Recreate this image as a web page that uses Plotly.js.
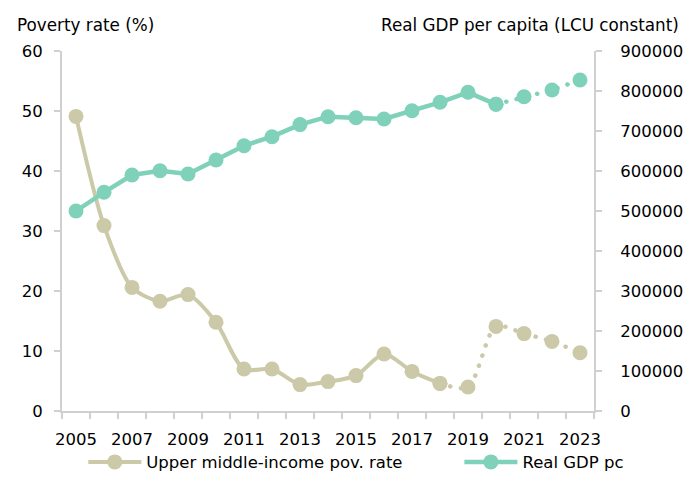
<!DOCTYPE html>
<html>
<head>
<meta charset="utf-8">
<script src="https://cdn.plot.ly/plotly-3.0.1.min.js"></script>
<style>
html,body{margin:0;padding:0;background:#fff;}
#chart{width:699px;height:487px;}
#chart .scatterlayer .js-line{stroke-linecap:round !important;stroke-linejoin:round !important;}
</style>
</head>
<body>
<div id="chart"></div>
<script>
const years = [2005,2006,2007,2008,2009,2010,2011,2012,2013,2014,2015,2016,2017,2018,2019,2020,2021,2022,2023];
const povertyRate = [49.1,30.9,20.6,18.3,19.4,14.8,7.0,7.0,4.4,4.9,5.9,9.5,6.6,4.6,4.0,14.1,12.9,11.6,9.7];
const gdpPc = [500000,546700,590000,600800,592500,627500,663300,685800,716000,735800,733300,730000,750800,771700,796700,766700,785800,802500,827500];
const tickYears = [2005,2007,2009,2011,2013,2015,2017,2019,2021,2023];
const povSolidEnd = 2018;   // last year drawn with a solid line
const gdpSolidEnd = 2020;
const povName = 'Upper middle-income pov. rate';
const gdpName = 'Real GDP pc';
const povTitle = 'Poverty rate (%)';
const gdpTitle = 'Real GDP per capita (LCU constant)';

const povColor = '#CBC9A8';
const gdpColor = '#7FD2B9';
const axisColor = '#D0D0D0';
const font = {family: 'DejaVu Sans, sans-serif', size: 16.5, color: '#000'};
const titleFont = {family: 'DejaVu Sans, sans-serif', size: 16.8, color: '#000'};
const dotted = '0.1px,10.5px';

const ip = years.indexOf(povSolidEnd);
const ig = years.indexOf(gdpSolidEnd);

const traces = [
  {x: years.slice(0, ip + 1), y: povertyRate.slice(0, ip + 1), name: povName, type: 'scatter', mode: 'lines+markers',
   line: {color: povColor, width: 4, shape: 'spline', smoothing: 0.8}, marker: {color: povColor, size: 15}, yaxis: 'y', legend: 'legend'},
  {x: years.slice(ip), y: povertyRate.slice(ip), name: povName, type: 'scatter', mode: 'lines+markers', showlegend: false,
   line: {color: povColor, width: 4.5, dash: dotted, shape: 'spline', smoothing: 0.8}, marker: {color: povColor, size: 15}, yaxis: 'y'},
  {x: years.slice(0, ig + 1), y: gdpPc.slice(0, ig + 1), name: gdpName, type: 'scatter', mode: 'lines+markers',
   line: {color: gdpColor, width: 4.5}, marker: {color: gdpColor, size: 15}, yaxis: 'y2', legend: 'legend2'},
  {x: years.slice(ig), y: gdpPc.slice(ig), name: gdpName, type: 'scatter', mode: 'lines+markers', showlegend: false,
   line: {color: gdpColor, width: 4.5, dash: dotted}, marker: {color: gdpColor, size: 15}, yaxis: 'y2'}
];

const legendBase = {orientation: 'h', xanchor: 'left', xref: 'paper', yref: 'container', y: 0.0869, yanchor: 'top',
  itemwidth: 53, font: font, bgcolor: 'rgba(0,0,0,0)'};

const layout = {
  width: 699, height: 487,
  margin: {l: 62, r: 105, t: 51, b: 76},
  paper_bgcolor: '#fff', plot_bgcolor: '#fff',
  font: font,
  showlegend: true,
  xaxis: {
    range: [years[0] - 0.5, years[years.length - 1] + 0.5],
    tickvals: tickYears, ticktext: tickYears.map(String),
    ticks: '', showgrid: false, zeroline: false,
    showline: true, linecolor: axisColor, linewidth: 2,
    ticklabelstandoff: 12,
    minor: {tick0: years[0] - 0.5, dtick: 1, ticks: 'outside', ticklen: 6, tickcolor: axisColor, tickwidth: 2, showgrid: false}
  },
  yaxis: {
    range: [0, 60], dtick: 10, tick0: 0,
    showgrid: false, zeroline: false,
    showline: true, linecolor: axisColor, linewidth: 2,
    ticks: 'outside', ticklen: 6, tickcolor: axisColor, tickwidth: 2,
    ticklabelstandoff: 8
  },
  yaxis2: {
    range: [0, 900000], dtick: 100000, tick0: 0, overlaying: 'y', side: 'right',
    showgrid: false, zeroline: false,
    showline: true, linecolor: axisColor, linewidth: 2,
    ticks: 'outside', ticklen: 6, tickcolor: axisColor, tickwidth: 2,
    tickformat: 'd',
    ticklabelstandoff: 15
  },
  legend: Object.assign({}, legendBase, {x: 0.04}),
  legend2: Object.assign({}, legendBase, {x: 0.747}),
  annotations: [
    {text: povTitle, xref: 'paper', yref: 'paper', x: -0.088, y: 1.072, xanchor: 'left', yanchor: 'middle', showarrow: false, font: titleFont},
    {text: gdpTitle, xref: 'paper', yref: 'paper', x: 1.1635, y: 1.072, xanchor: 'right', yanchor: 'middle', showarrow: false, font: titleFont}
  ]
};

Plotly.newPlot('chart', traces, layout, {staticPlot: true, displayModeBar: false});
</script>
</body>
</html>
